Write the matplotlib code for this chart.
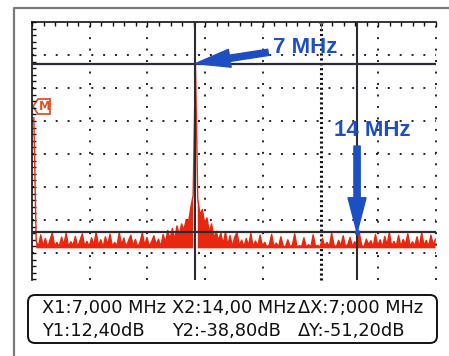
import numpy as np
import matplotlib.pyplot as plt
from matplotlib.patches import FancyBboxPatch, Polygon

# spectrum trace, 0.1 MHz per point from 0 MHz
freq_step = 0.1
trace_db = [
   -4.0,
   -41.5, -43.0, -39.5, -42.8, -40.6, -43.2, -41.0, -38.9, -42.9, -41.8,
   -43.1, -40.2, -42.5, -39.0, -43.0, -41.6, -42.7, -40.0, -43.2, -41.2,
   -39.2, -42.9, -41.5, -43.1, -40.4, -42.6, -38.7, -42.8, -41.0, -43.2,
   -40.1, -42.4, -39.3, -43.0, -41.8, -42.9, -38.8, -42.6, -40.5, -43.1,
   -41.3, -39.6, -42.8, -40.9, -43.2, -41.7, -38.9, -42.7, -40.3, -43.0,
   -41.6, -39.8, -42.5, -40.8, -43.1, -39.4, -41.9, -38.2, -40.7, -37.6,
   -41.0, -36.8, -39.5, -36.2, -38.0, -34.9, -35.8, -31.2, -27.5,
   12.4,
   -28.5, -33.5, -31.8, -36.0, -34.4, -38.6, -36.2, -40.5, -38.4, -41.2,
   -39.0, -42.3, -38.6, -42.6, -39.7, -43.0, -40.2, -38.8, -42.7, -41.1,
   -43.1, -40.6, -42.8, -39.1, -43.2, -41.4, -42.9, -39.6, -43.0, -41.8,
   -43.2, -42.5, -39.4, -43.1, -42.0, -43.2, -40.1, -42.9, -43.2, -41.0,
   -43.1, -42.6, -39.2, -43.2, -42.8, -43.0, -40.4, -43.2, -42.5, -43.1,
   -39.5, -43.0, -42.7, -43.2, -40.6, -42.9, -41.8, -43.1, -39.0, -42.6,
   -43.2, -41.2, -42.8, -39.8, -43.1, -42.4, -40.3, -43.0, -41.6, -42.9,
   -38.9, -42.7, -43.2, -40.8, -42.5, -41.3, -43.1, -39.4, -42.8, -41.0,
   -43.2, -40.0, -42.6, -38.8, -43.0, -41.5, -42.9, -39.7, -43.1, -40.9,
   -42.4, -39.2, -43.0, -41.6, -42.8, -40.1, -43.2, -38.9, -42.7, -41.2,
   -43.0, -39.6, -42.5, -40.8,
]

# cursor readings
x1_mhz, x2_mhz = 7.0, 14.0
y1_db, y2_db = 12.40, -38.80
readout_row1 = ["X1:7,000 MHz", "X2:14,00 MHz", "\u0394X:7;000 MHz"]
readout_row2 = ["Y1:12,40dB", "Y2:-38,80dB", "\u0394Y:-51,20dB"]
label_x1 = "7 MHz"
label_x2 = "14 MHz"

# screen: 2.5 MHz/div, 10 dB/div
x0 = -0.08
mhz_per_div = 2.5
n_xdiv = 7
top_db = 25.0
db_per_div = 10.0
y_bottom = -53.2
noise_base = -43.6

RED = '#e8280e'
BLUE = '#1e4fc2'
DARK = '#2b2b33'

freq = np.arange(len(trace_db)) * freq_step
trace = np.array(trace_db)

fig = plt.figure(figsize=(4.49, 3.56), dpi=100)
fig.patch.set_facecolor('white')

# overlay in pixel coordinates for frame and readout box
over = fig.add_axes([0, 0, 1, 1], zorder=0)
over.set_xlim(0, 449)
over.set_ylim(356, 0)
over.axis('off')
over.plot([14, 14, 449], [356, 8, 8], color='#7a7a7a', lw=1.6, solid_capstyle='butt')

box = FancyBboxPatch((28, 295), 409, 48, boxstyle='round,pad=0,rounding_size=7',
                     fc='white', ec='#111111', lw=1.4)
over.add_patch(box)
for col, xpx in enumerate([42, 172, 298]):
   over.text(xpx, 313, readout_row1[col], fontsize=12.8, family='DejaVu Sans',
             va='baseline', ha='left', color='#111111')
   over.text(xpx, 336, readout_row2[col], fontsize=12.8, family='DejaVu Sans',
             va='baseline', ha='left', color='#111111')

# "M" reference marker
tag = Polygon([(33, 106.5), (38, 99), (50, 99), (50, 114), (38, 114)], closed=True,
              fc='white', ec='#e0522a', lw=1.3)
over.add_patch(tag)
over.text(44.5, 107, 'M', color='#e0522a', fontsize=8.5, fontweight='bold',
          ha='center', va='center')

# scope screen
ax = fig.add_axes([32 / 449, 76 / 356, 404 / 449, 258 / 356], zorder=1)
ax.patch.set_alpha(0)
ax.set_xlim(x0, x0 + n_xdiv * mhz_per_div)
ax.set_ylim(y_bottom, top_db)

for sp in ['right', 'bottom']:
   ax.spines[sp].set_visible(False)
for sp in ['top', 'left']:
   ax.spines[sp].set_linewidth(1.2)
   ax.spines[sp].set_color('#111111')

ax.xaxis.set_ticks_position('top')
ax.set_xticks(x0 + np.arange(0, n_xdiv * mhz_per_div + 0.01, 0.5))
ax.set_yticks(top_db - np.arange(0, top_db - y_bottom, 2.0))
ax.tick_params(direction='in', length=3, width=1, colors='#111111',
               labeltop=False, labelbottom=False, labelleft=False)

# graticule dots
for k in range(1, n_xdiv + 1):
   xv = x0 + k * mhz_per_div
   if k == 5:
      ax.axvline(xv, color='#111111', lw=2.2, ls=(0, (0.7, 0.9)), zorder=1, clip_on=False)
   else:
      ax.axvline(xv, color='#222222', lw=1.4, ls=(0, (1, 4.9)), zorder=1, clip_on=False)
for k in range(1, 8):
   ax.axhline(top_db - k * db_per_div, color='#222222', lw=1.4, ls=(0, (1, 5.1)), zorder=1)

# trace
ax.fill_between(freq, trace, noise_base, where=trace < -20, color=RED, lw=0, zorder=2)
ax.plot(freq, trace, color=RED, lw=1.0, zorder=2)

# cursors
ax.axvline(x1_mhz, color=DARK, lw=1.5, zorder=3)
ax.axvline(x2_mhz, color=DARK, lw=1.5, zorder=3)
ax.axhline(y1_db, color=DARK, lw=1.6, zorder=3)
ax.axhline(y2_db, color=DARK, lw=1.6, zorder=3)
ax.plot([x2_mhz], [y2_db], 'o', color=BLUE, ms=3, zorder=4)

# trigger mark
ax.text(x0 + 5 * mhz_per_div, top_db - 0.3, 'T', color='#d8503a', fontsize=6,
        ha='center', va='top', zorder=4)

# arrows and labels
arrow_style = 'simple,head_length=25,head_width=13,tail_width=4.5'
ax.annotate('', xy=(x1_mhz, y1_db), xytext=(10.15, 15.8),
            arrowprops=dict(arrowstyle=arrow_style, mutation_scale=1, color=BLUE,
                            shrinkA=0, shrinkB=0), zorder=5)
ax.text(10.38, 15.6, label_x1, color=BLUE, fontsize=16, fontweight='bold',
        family='Liberation Sans', ha='left', va='baseline', zorder=5)
ax.annotate('', xy=(x2_mhz, y2_db), xytext=(x2_mhz, -12.6),
            arrowprops=dict(arrowstyle=arrow_style, mutation_scale=1, color=BLUE,
                            shrinkA=0, shrinkB=0), zorder=5)
ax.text(13.0, -9.5, label_x2, color=BLUE, fontsize=16, fontweight='bold',
        family='Liberation Sans', ha='left', va='baseline', zorder=5)

fig.savefig('out.png', dpi=100)
